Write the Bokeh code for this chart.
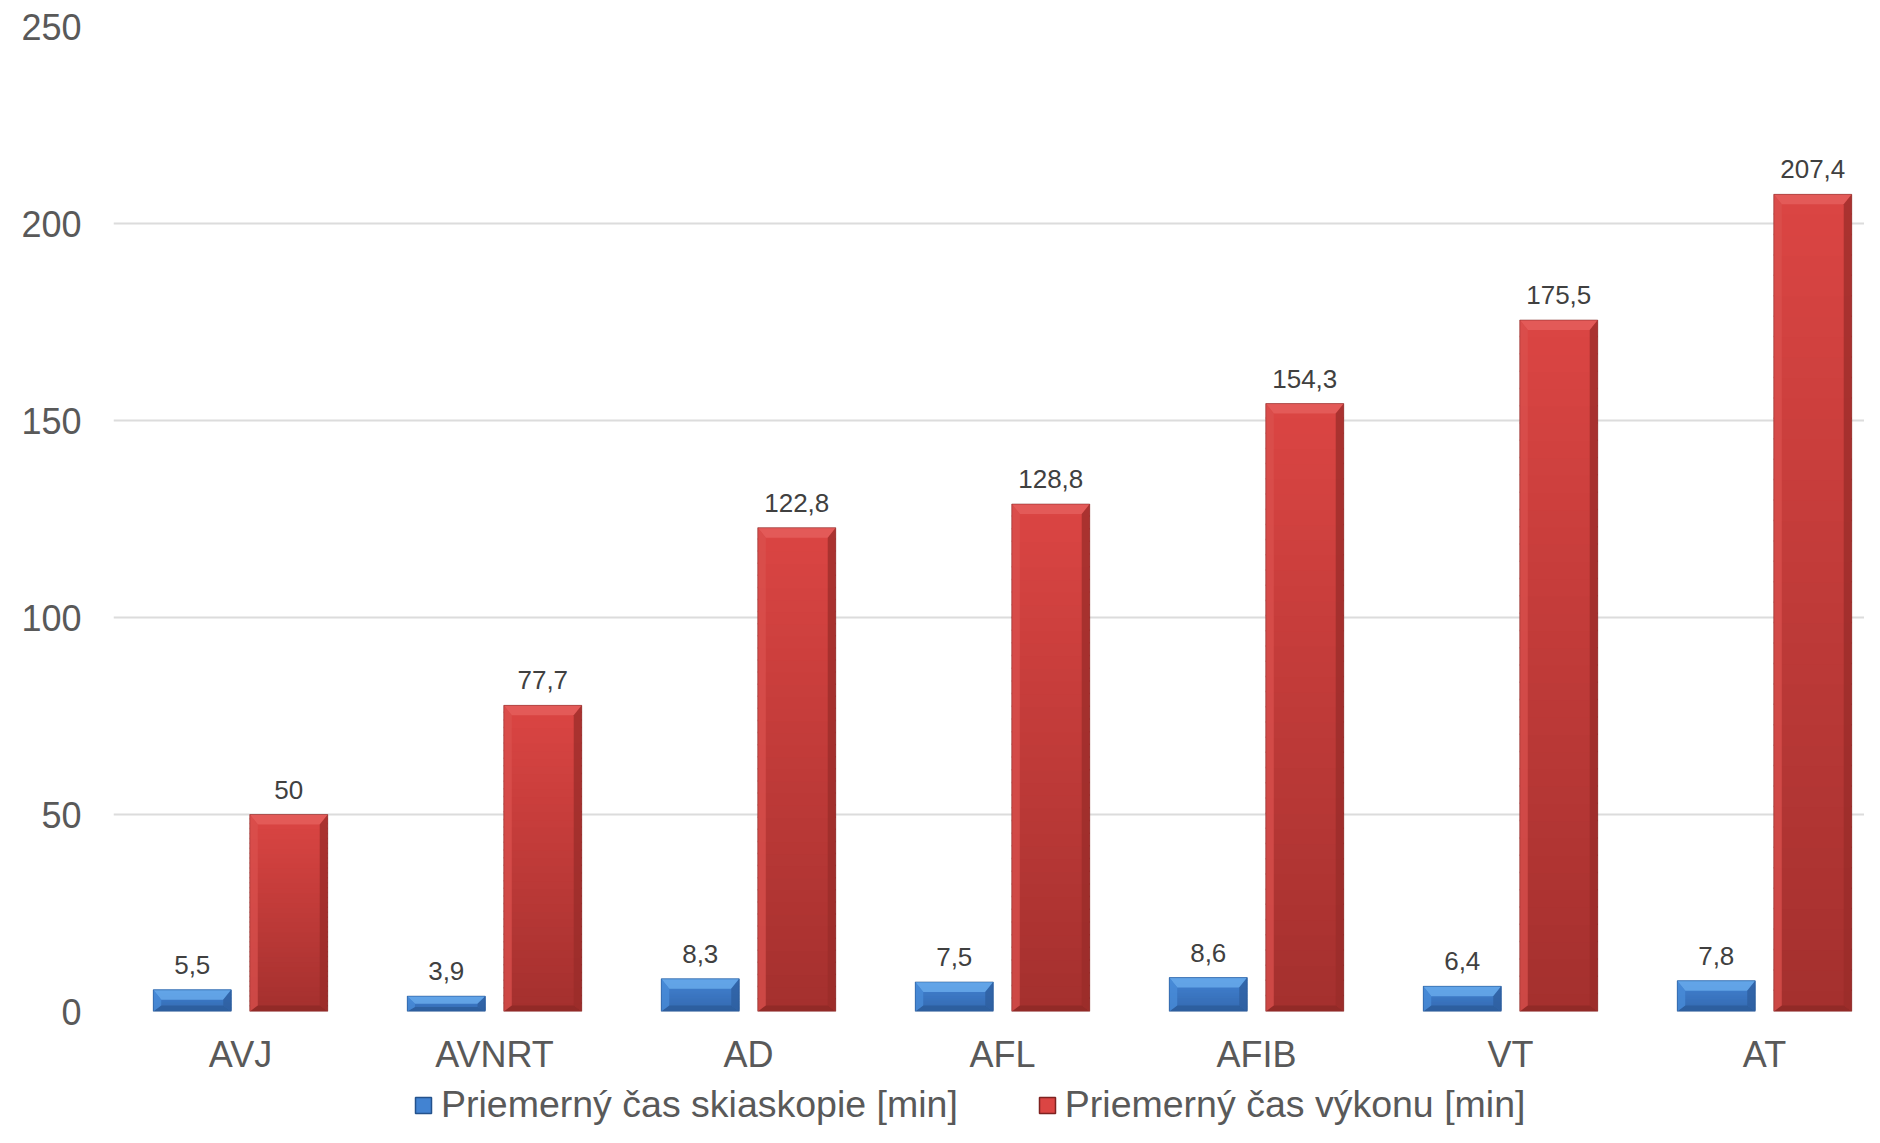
import numpy as np
from bokeh.plotting import figure
from bokeh.layouts import column
from bokeh.models import Range1d, FixedTicker, Legend, LegendItem, ColumnDataSource
from bokeh.embed import file_html
from bokeh.resources import INLINE
from bokeh.core.properties import value

# ---------------- data ----------------
categories = ["AVJ", "AVNRT", "AD", "AFL", "AFIB", "VT", "AT"]
skiaskopia = [5.5, 3.9, 8.3, 7.5, 8.6, 6.4, 7.8]
vykon = [50, 77.7, 122.8, 128.8, 154.3, 175.5, 207.4]
y_ticks = [0, 50, 100, 150, 200, 250]
series_names = ["Priemerný čas skiaskopie [min]", "Priemerný čas výkonu [min]"]

# ---------------- layout ----------------
W, H_TOTAL = 1864, 1127
H1 = 1078
H2 = H_TOTAL - H1
LEFT, TOP = 113, 26
FRAME_H = 985
BOTTOM = H1 - TOP - FRAME_H
CAT_PX = 254.0
FRAME_W = W - LEFT
Y_MAX = 250
PX_Y = FRAME_H / Y_MAX
FONT = "Liberation Sans"

p = figure(width=W, height=H1,
           x_range=Range1d(0.5, 0.5 + FRAME_W / CAT_PX),
           y_range=Range1d(0, Y_MAX),
           output_backend="svg", toolbar_location=None,
           min_border_left=LEFT, min_border_right=0,
           min_border_top=TOP, min_border_bottom=BOTTOM,
           outline_line_color=None, background_fill_color="white",
           border_fill_color="white")

# axes
p.yaxis.ticker = FixedTicker(ticks=y_ticks)
p.yaxis.axis_line_color = None
p.yaxis.major_tick_line_color = None
p.yaxis.minor_tick_line_color = None
p.yaxis.major_label_text_font = FONT
p.yaxis.major_label_text_font_size = "36px"
p.yaxis.major_label_text_color = "#595959"
p.yaxis.major_label_standoff = 26

x_pos = list(range(1, len(categories) + 1))
p.xaxis.ticker = FixedTicker(ticks=x_pos)
p.xaxis.major_label_overrides = {i: c for i, c in zip(x_pos, categories)}
p.xaxis.axis_line_color = None
p.xaxis.major_tick_line_color = None
p.xaxis.minor_tick_line_color = None
p.xaxis.major_label_text_font = FONT
p.xaxis.major_label_text_font_size = "36px"
p.xaxis.major_label_text_color = "#595959"
p.xaxis.major_label_standoff = 16

p.xgrid.grid_line_color = None
p.ygrid.ticker = FixedTicker(ticks=y_ticks)
p.ygrid.grid_line_color = "#dcdcdc"
p.ygrid.grid_line_width = 2

# ---------------- bars ----------------
BAR_W = 0.307
OFFS = [-0.19, 0.19]

styles = [
    dict(top="#4283d2", bot="#3469b0", bev_top="#6eb0ef", bev_bot="#2b5b98",
         side_l="#4a8ed9", side_r="#2d5e9e", edge="#24528c"),
    dict(top="#db4543", bot="#a4302e", bev_top="#e6625f", bev_bot="#8c2826",
         side_l="#d9504d", side_r="#9a2c2a", edge="#7e2220"),
]

def hex2rgb(h):
    h = h.lstrip("#")
    return np.array([int(h[i:i + 2], 16) for i in (0, 2, 4)], dtype=float)

def rgb2hex(c):
    c = np.clip(np.round(c), 0, 255).astype(int)
    return "#%02x%02x%02x" % tuple(c)

N_BANDS = 40
OVER = 1.5 / PX_Y
for s_idx, vals in enumerate([skiaskopia, vykon]):
    st = styles[s_idx]
    ctop, cbot = hex2rgb(st["top"]), hex2rgb(st["bot"])
    band = dict(left=[], right=[], bottom=[], top=[], color=[])
    pats = dict(xs=[], ys=[], color=[])
    outl = dict(left=[], right=[], bottom=[], top=[])
    for i, v in enumerate(vals):
        xc = x_pos[i] + OFFS[s_idx]
        xl, xr = xc - BAR_W / 2, xc + BAR_W / 2
        for j in range(N_BANDS):
            t = (j + 0.5) / N_BANDS
            band["left"].append(xl)
            band["right"].append(xr)
            band["bottom"].append(v * j / N_BANDS)
            band["top"].append(min(v, v * (j + 1) / N_BANDS + OVER))
            band["color"].append(rgb2hex(cbot + (ctop - cbot) * t))
        hpx = v * PX_Y
        bt_px = min(10.0, 0.5 * hpx)
        bb_px = min(6.0, 0.3 * hpx)
        bt, bb = bt_px / PX_Y, bb_px / PX_Y
        sx = min(8.0, bt_px) / CAT_PX
        # top bevel
        pats["xs"].append([xl, xr, xr - sx, xl + sx])
        pats["ys"].append([v, v, v - bt, v - bt])
        pats["color"].append(st["bev_top"])
        # bottom bevel
        pats["xs"].append([xl, xr, xr - sx, xl + sx])
        pats["ys"].append([0, 0, bb, bb])
        pats["color"].append(st["bev_bot"])
        # left side
        pats["xs"].append([xl, xl, xl + sx, xl + sx])
        pats["ys"].append([0, v, v - bt, bb])
        pats["color"].append(st["side_l"])
        # right side
        pats["xs"].append([xr, xr, xr - sx, xr - sx])
        pats["ys"].append([0, v, v - bt, bb])
        pats["color"].append(st["side_r"])
        outl["left"].append(xl)
        outl["right"].append(xr)
        outl["bottom"].append(0)
        outl["top"].append(v)
    p.quad(left="left", right="right", bottom="bottom", top="top",
           fill_color="color", line_color=None,
           source=ColumnDataSource(band))
    p.patches(xs="xs", ys="ys", fill_color="color", fill_alpha=0.75,
              line_color=None, source=ColumnDataSource(pats))
    p.quad(left="left", right="right", bottom="bottom", top="top",
           fill_color=None, line_color=st["edge"], line_alpha=0.5, line_width=1,
           source=ColumnDataSource(outl))

    # value labels
    lbl = ["{:g}".format(v).replace(".", ",") for v in vals]
    p.text(x=[x_pos[i] + OFFS[s_idx] for i in range(len(vals))], y=vals, text=lbl,
           text_align="center", text_baseline="alphabetic", y_offset=-25,
           text_font=value(FONT), text_font_size="26px", text_color="#404040")

# ---------------- legend (strip below the chart) ----------------
p2 = figure(width=W, height=H2, x_range=Range1d(0, 1), y_range=Range1d(0, 1),
            output_backend="svg", toolbar_location=None,
            x_axis_type=None, y_axis_type=None,
            min_border_left=0, min_border_right=0, min_border_top=0, min_border_bottom=0,
            outline_line_color=None, background_fill_color="white",
            border_fill_color="white")
p2.xgrid.grid_line_color = None
p2.ygrid.grid_line_color = None

# legend proxies: one hidden quad per series (outside the strip's visible range)
proxies = []
for s_idx in range(2):
    st = styles[s_idx]
    r = p2.quad(left=[-5], right=[-4], bottom=[-5], top=[-4],
                fill_color=st["top"], line_color=st["edge"], line_width=1.5)
    proxies.append(r)

legend = Legend(items=[LegendItem(label=series_names[k], renderers=[proxies[k]]) for k in range(2)],
                orientation="horizontal", location=(300, 1),
                label_text_font=FONT, label_text_font_size="37.5px",
                label_text_color="#595959", glyph_width=20, glyph_height=20,
                label_standoff=8, spacing=79, padding=0, margin=0,
                border_line_color=None, background_fill_alpha=0)
p2.add_layout(legend, "center")

layout = column(p, p2, spacing=0)
open("out.html", "w").write(file_html(layout, INLINE))
